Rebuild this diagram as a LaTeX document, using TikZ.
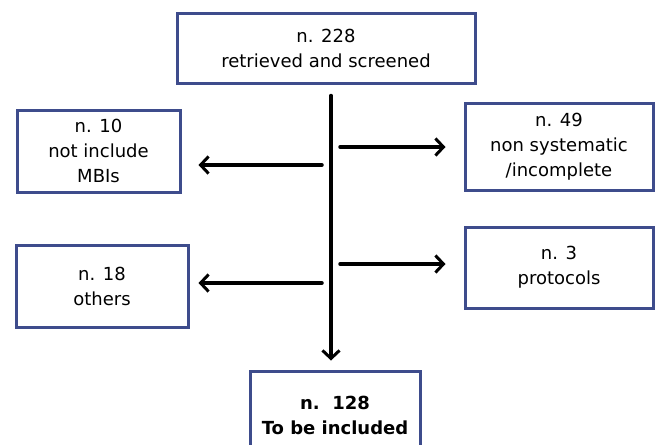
\documentclass[tikz,border=0pt]{standalone}
\usepackage{fontspec}
\setmainfont{DejaVu Sans}
\usetikzlibrary{arrows.meta}
\definecolor{boxblue}{HTML}{3E4C8C}
\begin{document}
\begin{tikzpicture}[x=1pt,y=-1pt,
  box/.style={draw=boxblue, line width=3pt, align=center, inner sep=0pt,
    font=\fontsize{18}{25}\selectfont},
  flow/.style={line width=3.5pt, line cap=round,
    -{Straight Barb[length=8pt,width=17pt,line width=3pt]}}]
\useasboundingbox (0,0) rectangle (657,445);
\node[box, minimum width=298pt, minimum height=70pt] (top) at (326,48)
  {n. 228\\retrieved and screened};
\node[box, minimum width=163pt, minimum height=82pt] (l1) at (98.5,151)
  {n. 10\\not include\\MBIs};
\node[box, minimum width=188pt, minimum height=87pt] (r1) at (559,146.5)
  {n. 49\\non systematic\\/incomplete};
\node[box, minimum width=172pt, minimum height=82pt] (l2) at (102,286)
  {n. 18\\others};
\node[box, minimum width=188pt, minimum height=81pt] (r2) at (559,267.5)
  {n. 3\\protocols};
\begin{scope}
\clip (0,0) rectangle (657,445);
\node[box, minimum width=170pt, minimum height=88pt,
  font=\fontsize{18}{25}\selectfont\bfseries] (bot) at (335,415)
  {n.\ \ 128\\To be included};
\end{scope}
\coordinate (vx) at (331,0);
\draw[flow] ([yshift=-11pt]top.south -| vx) -- ([yshift=9pt]bot.north -| vx);
\coordinate (h1) at (322,165);
\coordinate (h2) at (340,147);
\coordinate (h3) at (340,264);
\coordinate (h4) at (322,283);
\draw[flow, shorten >=17pt] (h1) -- (h1 -| l1.east);
\draw[flow, shorten >=18pt] (h2) -- (h2 -| r1.west);
\draw[flow, shorten >=18pt] (h3) -- (h3 -| r2.west);
\draw[flow, shorten >=9pt] (h4) -- (h4 -| l2.east);
\end{tikzpicture}
\end{document}
